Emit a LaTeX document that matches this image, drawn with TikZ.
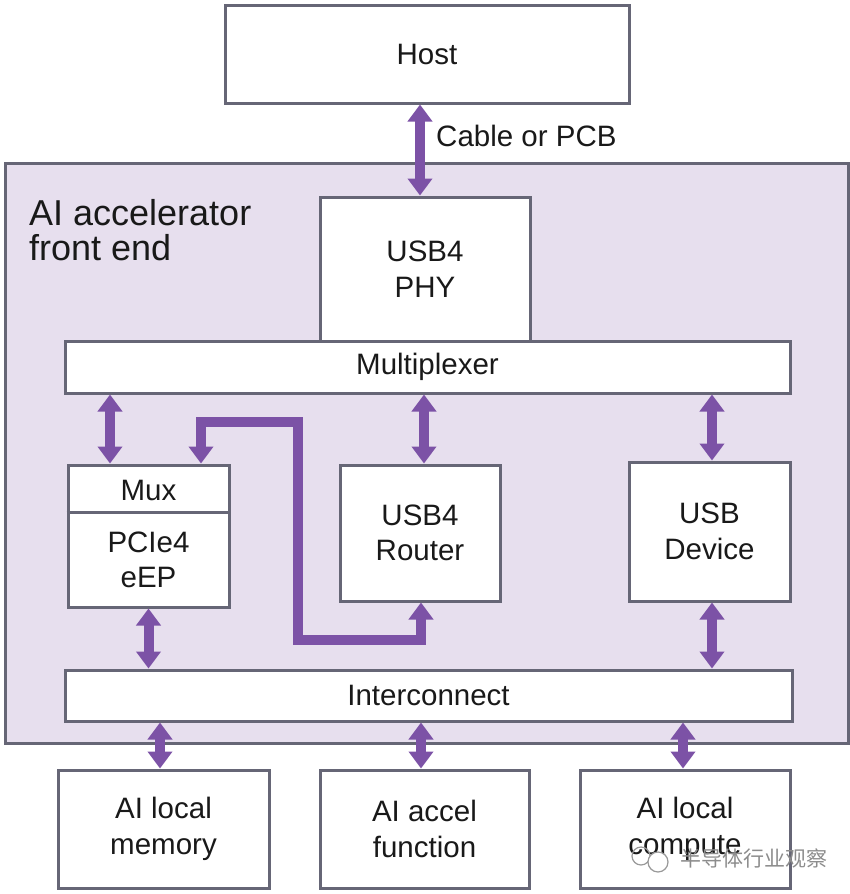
\documentclass[tikz,border=0pt]{standalone}
\usepackage{fontspec}
\setmainfont{Liberation Sans}
\newfontfamily\cjkfont{Noto Sans CJK SC}
\usetikzlibrary{arrows.meta,calc}
\definecolor{purp}{RGB}{124,82,166}
\definecolor{lav}{RGB}{231,223,238}
\definecolor{edge}{RGB}{102,102,118}
\definecolor{ink}{RGB}{25,25,25}
\tikzset{
  box/.style={draw=edge, line width=3pt, fill=white, inner sep=0pt, align=center,
    text=ink, font=\fontsize{29.5}{35.5}\selectfont},
  arr/.style={draw=purp, line width=10pt, {Triangle[width=24pt,length=17pt]}-{Triangle[width=24pt,length=17pt]}, shorten <=0pt, shorten >=0pt},
  lbl/.style={inner sep=0pt, text=ink, font=\fontsize{29.5}{35.5}\selectfont},
}
\begin{document}
\begin{tikzpicture}[x=1pt,y=-1pt]
\useasboundingbox (0,0) rectangle (850,894);
% outer region
\node[draw=edge, line width=3pt, fill=lav, minimum width=843pt, minimum height=580pt, inner sep=0pt] (front) at (426.5,453) {};
\node[lbl, anchor=north west, align=left, font=\fontsize{36}{35}\selectfont] (title) at (29,199) {AI accelerator\\front end};
% boxes
\node[box, minimum width=404pt, minimum height=98pt] (host) at (427,54) {Host};
\node[box, minimum width=210pt, minimum height=144pt] (phy) at (425,269) {USB4\\PHY};
\node[box, minimum width=725pt, minimum height=52pt] (mux) at (427.5,367) {Multiplexer};
\node[box, minimum width=161pt, minimum height=142pt] (pcie) at (148.5,536) {};
\node[lbl] (muxl) at (148.5,490) {Mux};
\node[lbl, align=center] (pciel) at (148.5,560) {PCIe4\\eEP};
\draw[edge, line width=3pt] (pcie.west |- 0,512) coordinate (dl) -- (pcie.east |- 0,512) coordinate (dr);
\node[box, minimum width=160pt, minimum height=136pt] (router) at (420,533) {USB4\\Router};
\node[box, minimum width=161pt, minimum height=139pt] (dev) at (709.5,531.5) {USB\\Device};
\node[box, minimum width=727pt, minimum height=51pt] (ic) at (428.5,695.5) {Interconnect};
\node[box, minimum width=211pt, minimum height=118pt] (mem) at (163.5,829) {AI local\\memory};
\node[box, minimum width=209pt, minimum height=118pt] (func) at (424.5,829) {AI accel\\function};
\node[box, minimum width=210pt, minimum height=118pt] (comp) at (685,829) {AI local\\compute};
\node[lbl, anchor=west] (cable) at (436,136) {Cable or PCB};
% arrows
\draw[arr] ([xshift=-5pt]phy.north |- host.south) -- ([xshift=-5pt]phy.north);
\draw[arr] ([xshift=-38.5pt]pcie.north |- mux.south) -- ([xshift=-38.5pt]pcie.north);
\draw[arr] ([xshift=4pt]router.north |- mux.south) -- ([xshift=4pt]router.north);
\draw[arr] ([xshift=2.5pt]dev.north |- mux.south) -- ([xshift=2.5pt]dev.north);
\draw[arr] (pcie.south) -- (pcie.south |- ic.north);
\draw[arr] ([xshift=2.5pt]dev.south) -- ([xshift=2.5pt]dev.south |- ic.north);
\draw[arr] ([xshift=-3.5pt]mem.north |- ic.south) -- ([xshift=-3.5pt]mem.north);
\draw[arr] ([xshift=-3.5pt]func.north |- ic.south) -- ([xshift=-3.5pt]func.north);
\draw[arr] ([xshift=-2pt]comp.north |- ic.south) -- ([xshift=-2pt]comp.north);
% routed path
\coordinate (p1) at (201,422);
\coordinate (p2) at (298,422);
\coordinate (p3) at (298,640);
\coordinate (p4) at (421,640);
\draw[arr, line join=miter] ([xshift=52.5pt]pcie.north) -- (p1) -- (p2) -- (p3) -- (p4) -- ([xshift=1pt]router.south);
% watermark
\node[inner sep=0pt, text=black!45, font=\cjkfont\fontsize{21}{21}\selectfont, anchor=west] (wm) at (680,858) {半导体行业观察};
\draw[black!40, line width=1.2pt] (641,856) circle (9pt) coordinate (wc1);
\draw[black!40, line width=1.2pt, fill=white] (658,862) circle (10pt) coordinate (wc2);
\end{tikzpicture}
\end{document}
